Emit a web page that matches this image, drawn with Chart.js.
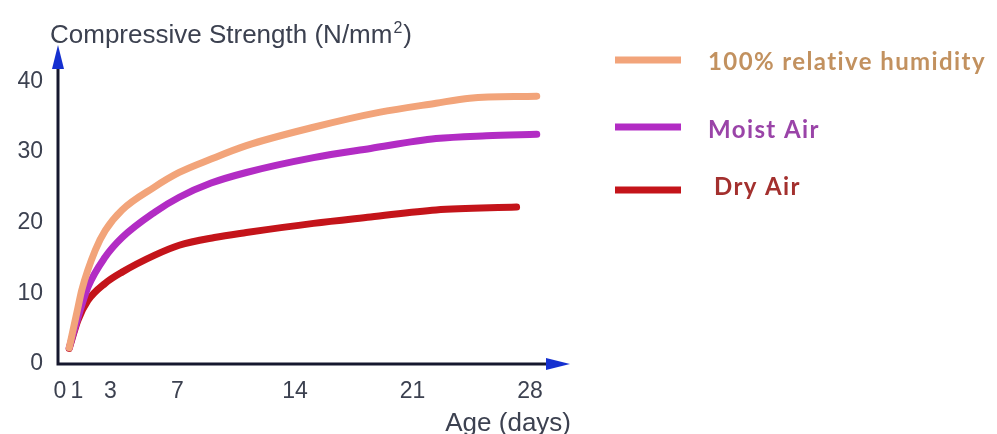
<!DOCTYPE html>
<html>
<head>
<meta charset="utf-8">
<title>Compressive Strength vs Age</title>
<script src="https://cdn.jsdelivr.net/npm/chart.js@4.4.1/dist/chart.umd.min.js"></script>
<style>
  html, body { margin: 0; padding: 0; background: #fff; }
  #wrap { position: relative; width: 997px; height: 434px; }
</style>
</head>
<body>
<div id="wrap"><canvas id="strength-chart" width="997" height="434"></canvas></div>
<script>
// ages in days and strengths in N/mm2
const humidDays = [0.55, 1.07, 1.3, 2.1, 2.7, 3.7, 5.6, 7.1, 9, 11.1, 15.1, 19, 22.4, 24.4, 28.4];
const humidValues = [2.3, 8, 10.5, 16.1, 18.9, 21.8, 25, 27.1, 29, 30.9, 33.5, 35.6, 36.9, 37.6, 37.9];

const moistDays = [0.55, 0.9, 1.67, 2.68, 3.7, 5.65, 7.1, 9, 11.1, 15.1, 18.5, 22.4, 25.4, 28.4];
const moistValues = [2.3, 5.2, 10.9, 15.1, 17.9, 21.5, 23.6, 25.6, 27.1, 29.2, 30.5, 31.9, 32.3, 32.5];

const dryDays = [0.55, 1.07, 1.67, 2.68, 3.7, 5.65, 7.1, 9.2, 11.1, 15.1, 18.5, 22.4, 27.2];
const dryValues = [2.2, 6.2, 9, 11.4, 13, 15.4, 16.8, 17.9, 18.6, 19.9, 20.8, 21.8, 22.2];

const seriesNames = ['100% relative humidity', 'Moist Air', 'Dry Air'];
const xTickValues = [0, 1, 3, 7, 14, 21, 28];
const yTickValues = [0, 10, 20, 30, 40];

const lineColors = ['#F2A47A', '#B22CC4', '#C4141A'];
const legendTextColors = ['#C2915F', '#9A44A8', '#A3302E'];
const axisTextColor = '#3C4150';
const axisFont = '"Liberation Sans", Arial, sans-serif';

document.addEventListener('DOMContentLoaded', () => {
    const canvas = document.getElementById('strength-chart');

    function toPoints(days, values) {
        return days.map((d, i) => ({ x: d, y: values[i] }));
    }

    function drawArrow(ctx, x, y, dir) {
        // dir: 'up' or 'right', (x, y) is the tip
        ctx.beginPath();
        if (dir === 'up') {
            ctx.moveTo(x, y);
            ctx.lineTo(x - 6, y + 24);
            ctx.lineTo(x + 6, y + 24);
        } else {
            ctx.moveTo(x, y);
            ctx.lineTo(x - 24, y - 6);
            ctx.lineTo(x - 24, y + 6);
        }
        ctx.closePath();
        ctx.fill();
    }

    const axesPlugin = {
        id: 'arrowAxes',
        afterDraw(chart) {
            const ctx = chart.ctx;
            const area = chart.chartArea;
            const x0 = area.left - 2;
            const y0 = area.bottom;
            ctx.save();

            // axis lines
            ctx.strokeStyle = '#16182E';
            ctx.lineWidth = 3;
            ctx.beginPath();
            ctx.moveTo(x0, y0 + 1.5);
            ctx.lineTo(x0, 62);
            ctx.moveTo(x0 - 1.5, y0);
            ctx.lineTo(area.right - 10, y0);
            ctx.stroke();

            ctx.fillStyle = '#1530D0';
            drawArrow(ctx, x0, 45, 'up');
            drawArrow(ctx, area.right - 2, y0, 'right');

            // axis titles
            ctx.fillStyle = axisTextColor;
            ctx.textBaseline = 'alphabetic';
            ctx.textAlign = 'left';
            ctx.font = '26px ' + axisFont;
            const t1 = 'Compressive Strength (N/mm';
            ctx.fillText(t1, 50, 43);
            let tx = 50 + ctx.measureText(t1).width;
            ctx.font = '16px ' + axisFont;
            ctx.fillText('2', tx + 1, 33);
            tx += ctx.measureText('2').width + 2;
            ctx.font = '26px ' + axisFont;
            ctx.fillText(')', tx, 43);

            ctx.font = '26px ' + axisFont;
            ctx.textAlign = 'right';
            ctx.fillText('Age (days)', 571, 431);

            // legend
            const legendY = [60, 127, 190];
            const legendTextX = [708, 708, 714];
            const legendTextY = [62, 130, 187];
            ctx.textAlign = 'left';
            ctx.textBaseline = 'middle';
            ctx.font = 'bold 24px Lato, "Noto Sans", sans-serif';
            ctx.letterSpacing = '1.4px';
            seriesNames.forEach((name, i) => {
                ctx.strokeStyle = lineColors[i];
                ctx.lineWidth = 7;
                ctx.beginPath();
                ctx.moveTo(615, legendY[i]);
                ctx.lineTo(681, legendY[i]);
                ctx.stroke();
                ctx.fillStyle = legendTextColors[i];
                ctx.fillText(name, legendTextX[i], legendTextY[i]);
            });
            ctx.restore();
        }
    };

    const seriesDays = [humidDays, moistDays, dryDays];
    const seriesValues = [humidValues, moistValues, dryValues];

    new Chart(canvas.getContext('2d'), {
        type: 'line',
        data: {
            datasets: seriesNames.map((name, i) => ({
                label: name,
                data: toPoints(seriesDays[i], seriesValues[i]),
                borderColor: lineColors[i],
                borderWidth: 7,
                borderCapStyle: 'round',
                pointRadius: 0,
                cubicInterpolationMode: 'monotone',
                fill: false
            }))
        },
        options: {
            responsive: false,
            animation: false,
            events: [],
            layout: { padding: { top: 46, right: 425, bottom: 0, left: 0 } },
            plugins: {
                legend: { display: false },
                tooltip: { enabled: false }
            },
            scales: {
                x: {
                    type: 'linear',
                    min: 0,
                    max: 30.5,
                    grid: { display: false, drawTicks: false },
                    border: { display: false },
                    afterBuildTicks: (scale) => {
                        scale.ticks = xTickValues.map(v => ({ value: v }));
                    },
                    afterFit: (scale) => { scale.height = 70; },
                    ticks: {
                        padding: 14,
                        maxRotation: 0,
                        autoSkip: false,
                        color: axisTextColor,
                        font: { family: axisFont, size: 23 }
                    }
                },
                y: {
                    min: 0,
                    max: 45,
                    grid: { display: false, drawTicks: false },
                    border: { display: false },
                    afterBuildTicks: (scale) => {
                        scale.ticks = yTickValues.map(v => ({ value: v }));
                    },
                    afterFit: (scale) => { scale.width = 60; },
                    ticks: {
                        padding: 17,
                        color: axisTextColor,
                        font: { family: axisFont, size: 23 }
                    }
                }
            }
        },
        plugins: [axesPlugin]
    });
});
</script>
</body>
</html>
